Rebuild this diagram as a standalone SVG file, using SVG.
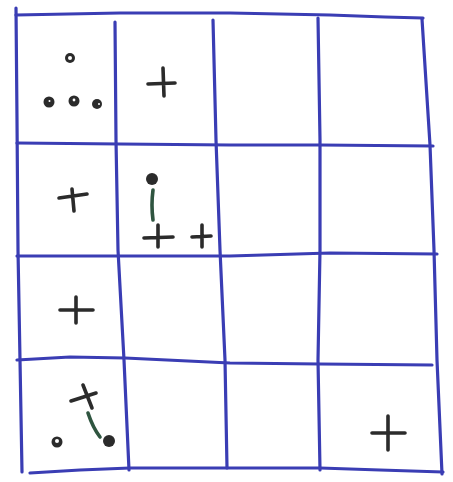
<svg xmlns="http://www.w3.org/2000/svg" width="453" height="482" viewBox="0 0 453 482">
<style>
.g{fill:none;stroke:#3a3db4;stroke-width:3.2;stroke-linecap:round;stroke-linejoin:round}
.k{fill:none;stroke:#2b2b2b;stroke-width:3.6;stroke-linecap:round}
.gr{fill:none;stroke:#2f5540;stroke-width:3.6;stroke-linecap:round}
.o{fill:#2b2b2b;stroke:none}
.h{fill:#fff}
</style>
<rect width="453" height="482" fill="#fff"/>
<g id="grid">
<path class="g" d="M16,8 L17,120 L18,250 L20,360 L22,472"/>
<path class="g" d="M115,22 L116,140 L118,250 L124,360 L129,470"/>
<path class="g" d="M213,20 L216,140 L220,250 L225,360 L227,468"/>
<path class="g" d="M318,18 L320,140 L320,250 L318,360 L320,470"/>
<path class="g" d="M422,19 L430,145 L434,250 L437,360 L442,474"/>
<path class="g" d="M16,15 L120,13 L230,13 L330,15 L385,17 L423,18"/>
<path class="g" d="M17,143 L120,144 L230,145 L320,145 L433,146"/>
<path class="g" d="M17,256 L120,256 L230,256 L330,253 L437,254"/>
<path class="g" d="M17,360 L70,357 L125,358 L230,363 L320,364 L432,365"/>
<path class="g" d="M30,473 L80,470 L130,468 L220,468 L320,468 L380,470 L443,472"/>
</g>
<g id="cell11">
<circle cx="70" cy="58" r="5" class="o"/><circle cx="70" cy="58" r="2" class="h"/>
<circle cx="49" cy="102" r="5.5" class="o"/><circle cx="49.5" cy="101" r="1" class="h"/>
<circle cx="74" cy="101" r="5.5" class="o"/><circle cx="74" cy="100" r="1.4" class="h"/>
<circle cx="97" cy="104" r="5" class="o"/><circle cx="99" cy="104" r="1" class="h"/>
</g>
<g id="cell12">
<path class="k" d="M148,84 L175,83 M163,68 L164,96"/>
</g>
<g id="cell21">
<path class="k" d="M59,198 L87,194 M72,189 L74,211"/>
</g>
<g id="cell22">
<circle cx="152" cy="179" r="6" class="o"/>
<path class="gr" d="M153,190 Q151,205 153,220"/>
<path class="k" d="M144,238 L173,237 M158,225 L158,247"/>
<path class="k" d="M192,237 L211,236 M202,225 L202,247"/>
</g>
<g id="cell31">
<path class="k" d="M60,310 L93,310 M76,297 L76,323"/>
</g>
<g id="cell41">
<path class="k" d="M71,401 L96,393 M83,385 L92,408"/>
<path class="gr" d="M88,413 Q93,428 100,437"/>
<circle cx="57" cy="442" r="5.5" class="o"/><circle cx="57" cy="441" r="2" class="h"/>
<circle cx="109" cy="441" r="6" class="o"/>
</g>
<g id="cell44">
<path class="k" d="M372,433 L405,433 M388,416 L388,450"/>
</g>
</svg>
